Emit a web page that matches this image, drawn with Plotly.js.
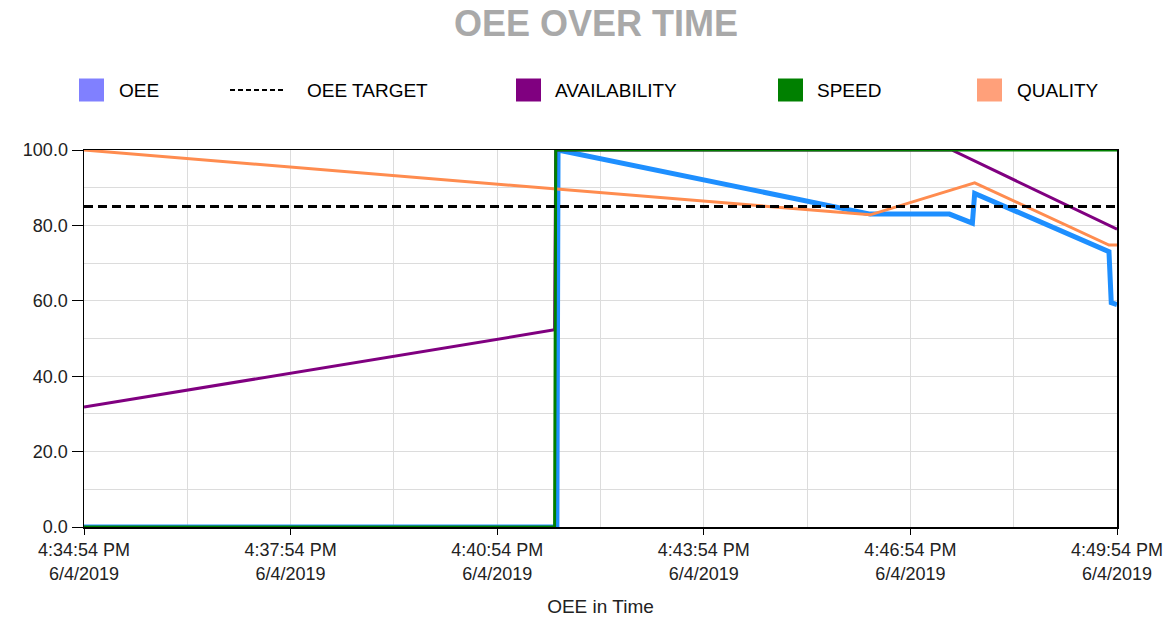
<!DOCTYPE html>
<html>
<head>
<meta charset="utf-8">
<script src="https://cdn.plot.ly/plotly-3.0.1.min.js"></script>
<style>html,body{margin:0;padding:0;background:#fff;}#chart{width:1165px;height:619px;}</style>
</head>
<body>
<div id="chart"></div>
<script>
// ---- data ----
const DAY = '2019-06-04 ';
const oeeTimes = ['16:34:54','16:41:46','16:41:47','16:46:19','16:47:28','16:47:48','16:47:50','16:49:47','16:49:49','16:49:54'];
const oeeValues = [0, 0, 100, 83, 83, 80.6, 88.5, 73, 59.5, 59];

const availTimes = ['16:34:54','16:41:44','16:41:45','16:47:30','16:49:54'];
const availValues = [31.8, 52.3, 100, 100, 79];

const speedTimes = ['16:34:54','16:41:44','16:41:45','16:49:54'];
const speedValues = [0, 0, 100, 100];

const qualityTimes = ['16:34:54','16:46:19','16:47:50','16:49:47','16:49:54'];
const qualityValues = [100, 82.8, 91.3, 74.8, 74.8];

const targetTimes = ['16:34:54','16:49:54'];
const targetValues = [85, 85];

const xTickTimes = ['16:34:54','16:37:54','16:40:54','16:43:54','16:46:54','16:49:54'];
const xTickLabels = ['4:34:54 PM<br>6/4/2019','4:37:54 PM<br>6/4/2019','4:40:54 PM<br>6/4/2019','4:43:54 PM<br>6/4/2019','4:46:54 PM<br>6/4/2019','4:49:54 PM<br>6/4/2019'];

const legendNames = ['OEE','OEE TARGET','AVAILABILITY','SPEED','QUALITY'];
const legendColors = ['#8080FF','#000000','#800080','#008000','#FFA07A'];

const ts = a => a.map(t => DAY + t);

const FONT = 'Liberation Sans, Arial, sans-serif';

const traces = [
  {x: ts(oeeTimes), y: oeeValues, mode: 'lines', name: 'OEE', line: {color: '#1E8FFF', width: 5}},
  {x: ts(availTimes), y: availValues, mode: 'lines', name: 'AVAILABILITY', line: {color: '#800080', width: 3}},
  {x: ts(qualityTimes), y: qualityValues, mode: 'lines', name: 'QUALITY', line: {color: '#FF8C4F', width: 3}},
  {x: ts(speedTimes), y: speedValues, mode: 'lines', name: 'SPEED', line: {color: '#008000', width: 3}},
  {x: ts(targetTimes), y: targetValues, mode: 'lines', name: 'OEE TARGET', line: {color: '#000000', width: 3, dash: '9px,5px'}}
];

// ---- legend drawn as shapes + annotations (pixel -> paper) ----
const L = 84, R = 48, T = 150, B = 92, W = 1165, H = 619;
const pw = W - L - R, ph = H - T - B;
const px = x => (x - L) / pw;
const py = y => (H - B - y) / ph;

const legendSwatchX = [79, 230, 516, 778, 977];
const legendTextX = [117, 305, 553, 815, 1015];
const legY = 90;

const shapes = [];
const annotations = [];
legendNames.forEach((n, i) => {
  if (n === 'OEE TARGET') {
    shapes.push({type: 'line', xref: 'paper', yref: 'paper', x0: px(legendSwatchX[i]), x1: px(legendSwatchX[i] + 56), y0: py(legY), y1: py(legY), line: {color: '#000', width: 2, dash: '5px,3px'}});
  } else {
    shapes.push({type: 'rect', xref: 'paper', yref: 'paper', x0: px(legendSwatchX[i]), x1: px(legendSwatchX[i] + 25), y0: py(legY - 11.5), y1: py(legY + 11.5), fillcolor: legendColors[i], line: {width: 0}});
  }
  annotations.push({xref: 'paper', yref: 'paper', x: px(legendTextX[i]), y: py(legY), xanchor: 'left', yanchor: 'middle', text: n, showarrow: false, font: {family: FONT, size: 19, color: '#000'}});
});

// title as annotation centred at pixel x ~596
annotations.push({xref: 'paper', yref: 'paper', x: px(596), y: py(23), xanchor: 'center', yanchor: 'middle', text: '<b>OEE OVER TIME</b>', showarrow: false, font: {family: FONT, size: 36, color: '#A9A9A9'}});

const layout = {
  width: W, height: H,
  margin: {l: L, r: R, t: T, b: B},
  paper_bgcolor: '#fff', plot_bgcolor: '#fff',
  showlegend: false,
  hovermode: false,
  xaxis: {
    type: 'date',
    range: [DAY + '16:34:54', DAY + '16:49:54'],
    tickmode: 'array', tickvals: ts(xTickTimes), ticktext: xTickLabels,
    ticks: 'outside', ticklen: 6, tickcolor: '#000', tickwidth: 1,
    tickfont: {family: FONT, size: 18, color: '#222'},
    showgrid: true, gridcolor: '#dcdcdc', gridwidth: 1,
    minor: {dtick: 90000, tick0: DAY + '16:34:54', showgrid: true, gridcolor: '#dcdcdc', gridwidth: 1, ticks: ''},
    showline: true, linecolor: '#000', linewidth: 1.5, mirror: true,
    zeroline: false,
    title: {text: 'OEE in Time', font: {family: FONT, size: 19, color: '#222'}, standoff: 17}
  },
  yaxis: {
    range: [0, 100], tick0: 0, dtick: 20, tickformat: '.1f',
    ticks: 'outside', ticklen: 11, tickcolor: '#000', tickwidth: 1,
    tickfont: {family: FONT, size: 18, color: '#222'},
    showgrid: true, gridcolor: '#dcdcdc', gridwidth: 1,
    minor: {dtick: 10, showgrid: true, gridcolor: '#dcdcdc', gridwidth: 1, ticks: ''},
    showline: true, linecolor: '#000', linewidth: 1.5, mirror: true,
    zeroline: false
  },
  shapes: shapes,
  annotations: annotations
};

Plotly.newPlot('chart', traces, layout, {displayModeBar: false, staticPlot: true});
</script>
</body>
</html>
